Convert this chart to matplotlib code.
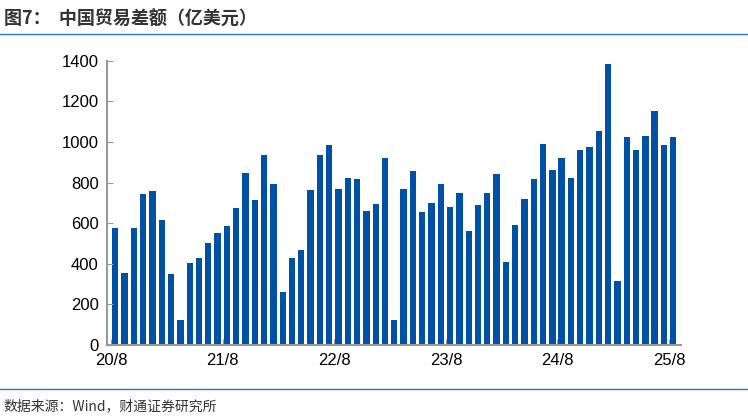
import matplotlib.pyplot as plt

plt.rcParams['font.family'] = ['Liberation Sans', 'Noto Sans CJK SC', 'DejaVu Sans']

# Monthly trade balance, 2020/8 - 2025/8 (100 million USD)
values = [575, 355, 577, 745, 760,
          615, 350, 120, 405, 430, 500, 550, 585, 675, 845, 715, 935,
          795, 260, 430, 465, 765, 935, 985, 770, 822, 818, 660, 695,
          920, 120, 770, 855, 655, 700, 795, 680, 750, 560, 690, 750,
          840, 410, 590, 720, 815, 990, 860, 920, 820, 960, 975, 1055,
          1385, 315, 1025, 960, 1030, 1150, 985, 1025]
tick_labels = ["20/8", "21/8", "22/8", "23/8", "24/8", "25/8"]

fig = plt.figure(figsize=(7.48, 4.19), dpi=100)
ax = fig.add_axes([0.143, 0.177, 0.767, 0.678])

x = list(range(len(values)))
ax.bar(x, values, width=0.68, color="#0050A5")

ax.set_ylim(0, 1400)
ax.set_yticks(range(0, 1401, 200))
ax.set_xlim(-0.9, len(values) - 0.2)
ax.set_xticks([i * 12 - 0.45 for i in range(len(tick_labels))])
ax.set_xticklabels(tick_labels)
ax.tick_params(labelsize=12, colors="black", length=4, color="#999999")
ax.tick_params(axis="x", direction="in", pad=6)
ax.tick_params(axis="y", direction="in", pad=6)
for s in ["top", "right"]:
    ax.spines[s].set_visible(False)
for s in ["left", "bottom"]:
    ax.spines[s].set_color("#999999")
    ax.spines[s].set_linewidth(1.5)

cjk = ['Noto Sans CJK SC', 'DejaVu Sans']
fig.text(0.005, 0.955, "图7：  中国贸易差额（亿美元）", fontsize=13, fontweight="bold",
         color="#333333", va="center", family=cjk)
fig.add_artist(plt.Line2D([0, 1], [0.918, 0.918], color="#2E75D0", lw=1))
fig.add_artist(plt.Line2D([0, 1], [0.072, 0.072], color="#2E75D0", lw=1))
fig.text(0.005, 0.03, "数据来源：Wind，财通证券研究所", fontsize=10, color="#333333",
         va="center", family=cjk)

fig.savefig("out.png", dpi=100)
